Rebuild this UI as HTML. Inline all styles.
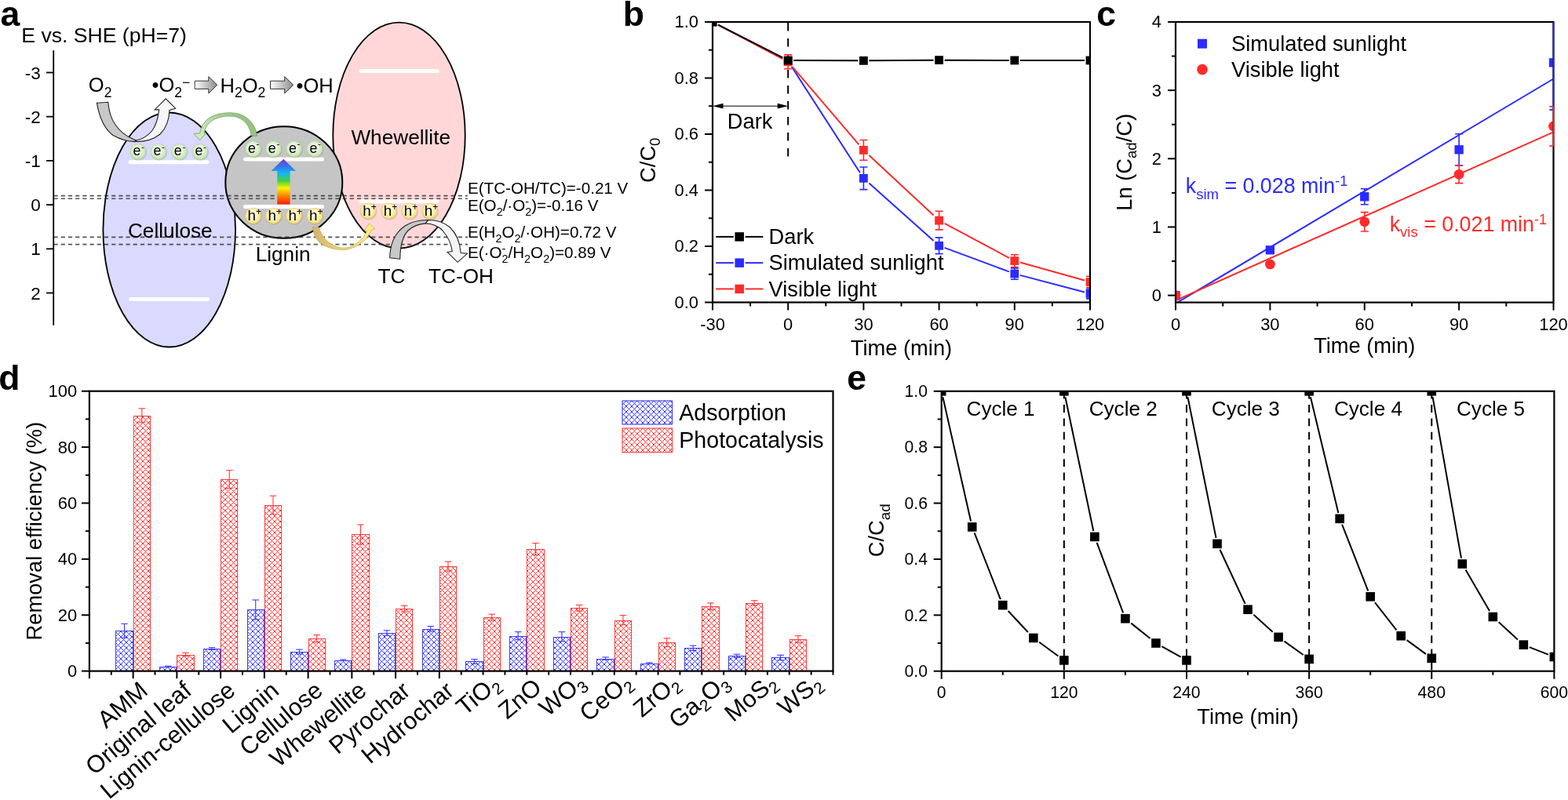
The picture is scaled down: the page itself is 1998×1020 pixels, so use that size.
<!DOCTYPE html>
<html><head><meta charset="utf-8"><title>Figure</title>
<style>
html,body{margin:0;padding:0;background:#fff;overflow:hidden;}
svg{display:block;}
svg text{font-family:"Liberation Sans", Arial, Helvetica, sans-serif;}
</style></head>
<body>
<svg width="1998" height="1020" viewBox="0 0 1998 1020">
<rect width="1998" height="1020" fill="#fff"/>
<defs><radialGradient id="gG" cx="0.5" cy="0.5" r="0.5" fx="0.42" fy="0.3"><stop offset="0" stop-color="#fbfdf8"/><stop offset="0.6" stop-color="#e2f2d6"/><stop offset="0.88" stop-color="#c8e6b4"/><stop offset="1" stop-color="#a9d494"/></radialGradient><radialGradient id="gY" cx="0.5" cy="0.5" r="0.5" fx="0.42" fy="0.3"><stop offset="0" stop-color="#fffef4"/><stop offset="0.6" stop-color="#fcf3b8"/><stop offset="0.88" stop-color="#f2e08a"/><stop offset="1" stop-color="#dcc06a"/></radialGradient><linearGradient id="gR" x1="0" y1="1" x2="0" y2="0"><stop offset="0" stop-color="#ff1a00"/><stop offset="0.2" stop-color="#ff8a00"/><stop offset="0.36" stop-color="#fff200"/><stop offset="0.52" stop-color="#40d040"/><stop offset="0.68" stop-color="#10b8f0"/><stop offset="0.85" stop-color="#3a6ee8"/><stop offset="1" stop-color="#6a3cc8"/></linearGradient><linearGradient id="gA" x1="0" y1="0" x2="1" y2="0"><stop offset="0" stop-color="#ffffff"/><stop offset="1" stop-color="#8c8c8c"/></linearGradient><linearGradient id="gGr" x1="1" y1="0.3" x2="0" y2="0.7"><stop offset="0" stop-color="#8cbc78"/><stop offset="1" stop-color="#d2ecc2"/></linearGradient><linearGradient id="gYe" x1="0" y1="0" x2="1" y2="0"><stop offset="0" stop-color="#d4b26c"/><stop offset="0.5" stop-color="#ecd878"/><stop offset="1" stop-color="#fbef86"/></linearGradient></defs>
<ellipse cx="215.7" cy="293" rx="84.3" ry="149.5" fill="#dad9fe" stroke="#000" stroke-width="1.8"/>
<ellipse cx="508.5" cy="172.7" rx="84.2" ry="144" fill="#ffd7d8" stroke="#000" stroke-width="1.8"/>
<line x1="166" y1="206.7" x2="264" y2="206.7" stroke="#fff" stroke-width="5" stroke-linecap="round"/>
<line x1="166.5" y1="381.6" x2="264.5" y2="381.6" stroke="#fff" stroke-width="5" stroke-linecap="round"/>
<line x1="460" y1="90.4" x2="557" y2="90.4" stroke="#fff" stroke-width="5" stroke-linecap="round"/>
<line x1="460" y1="256.8" x2="557" y2="256.8" stroke="#fff" stroke-width="5" stroke-linecap="round"/>
<ellipse cx="361.8" cy="232.5" rx="74.5" ry="71.3" fill="#c5c5c5" stroke="#000" stroke-width="2"/>
<line x1="312.5" y1="203.1" x2="410.5" y2="203.1" stroke="#fff" stroke-width="5" stroke-linecap="round"/>
<line x1="312.5" y1="263.5" x2="410.5" y2="263.5" stroke="#fff" stroke-width="5" stroke-linecap="round"/>
<line x1="68.5" y1="249.6" x2="596" y2="249.6" stroke="#2a2a2a" stroke-width="1.6" stroke-dasharray="5.2 4" stroke-opacity="0.8"/>
<line x1="68.5" y1="253.2" x2="596" y2="253.2" stroke="#2a2a2a" stroke-width="1.6" stroke-dasharray="5.2 4" stroke-opacity="0.8"/>
<line x1="68.5" y1="302.4" x2="596" y2="302.4" stroke="#2a2a2a" stroke-width="1.6" stroke-dasharray="5.2 4" stroke-opacity="0.8"/>
<line x1="68.5" y1="311.6" x2="596" y2="311.6" stroke="#2a2a2a" stroke-width="1.6" stroke-dasharray="5.2 4" stroke-opacity="0.8"/>
<path d="M353.3,260.6 L353.3,218 L345.5,218 L361.3,202.7 L377,218 L369.6,218 L369.6,260.6 Z" fill="url(#gR)"/>
<circle cx="176.6" cy="194.1" r="10.6" fill="#000" opacity="0.12"/>
<circle cx="176" cy="193.3" r="10.4" fill="url(#gG)"/>
<text x="169.4" y="198.4" font-size="17.8">e<tspan font-size="11.5" dx="0.8" dy="-7.8">-</tspan></text>
<circle cx="202.6" cy="194.1" r="10.6" fill="#000" opacity="0.12"/>
<circle cx="202" cy="193.3" r="10.4" fill="url(#gG)"/>
<text x="195.4" y="198.4" font-size="17.8">e<tspan font-size="11.5" dx="0.8" dy="-7.8">-</tspan></text>
<circle cx="229" cy="194.1" r="10.6" fill="#000" opacity="0.12"/>
<circle cx="228.4" cy="193.3" r="10.4" fill="url(#gG)"/>
<text x="221.8" y="198.4" font-size="17.8">e<tspan font-size="11.5" dx="0.8" dy="-7.8">-</tspan></text>
<circle cx="255.6" cy="194.1" r="10.6" fill="#000" opacity="0.12"/>
<circle cx="255" cy="193.3" r="10.4" fill="url(#gG)"/>
<text x="248.4" y="198.4" font-size="17.8">e<tspan font-size="11.5" dx="0.8" dy="-7.8">-</tspan></text>
<circle cx="323.1" cy="190.8" r="10.6" fill="#000" opacity="0.12"/>
<circle cx="322.5" cy="190" r="10.4" fill="url(#gG)"/>
<text x="315.9" y="195.1" font-size="17.8">e<tspan font-size="11.5" dx="0.8" dy="-7.8">-</tspan></text>
<circle cx="323.1" cy="276.1" r="10.6" fill="#000" opacity="0.12"/>
<circle cx="322.5" cy="275.3" r="10.4" fill="url(#gY)"/>
<text x="315.5" y="280.9" font-size="18.8">h<tspan font-size="12" dy="-6.8">+</tspan></text>
<circle cx="349" cy="190.8" r="10.6" fill="#000" opacity="0.12"/>
<circle cx="348.4" cy="190" r="10.4" fill="url(#gG)"/>
<text x="341.8" y="195.1" font-size="17.8">e<tspan font-size="11.5" dx="0.8" dy="-7.8">-</tspan></text>
<circle cx="349" cy="276.1" r="10.6" fill="#000" opacity="0.12"/>
<circle cx="348.4" cy="275.3" r="10.4" fill="url(#gY)"/>
<text x="341.4" y="280.9" font-size="18.8">h<tspan font-size="12" dy="-6.8">+</tspan></text>
<circle cx="375.1" cy="190.8" r="10.6" fill="#000" opacity="0.12"/>
<circle cx="374.5" cy="190" r="10.4" fill="url(#gG)"/>
<text x="367.9" y="195.1" font-size="17.8">e<tspan font-size="11.5" dx="0.8" dy="-7.8">-</tspan></text>
<circle cx="375.1" cy="276.1" r="10.6" fill="#000" opacity="0.12"/>
<circle cx="374.5" cy="275.3" r="10.4" fill="url(#gY)"/>
<text x="367.5" y="280.9" font-size="18.8">h<tspan font-size="12" dy="-6.8">+</tspan></text>
<circle cx="401.6" cy="190.8" r="10.6" fill="#000" opacity="0.12"/>
<circle cx="401" cy="190" r="10.4" fill="url(#gG)"/>
<text x="394.4" y="195.1" font-size="17.8">e<tspan font-size="11.5" dx="0.8" dy="-7.8">-</tspan></text>
<circle cx="401.6" cy="276.1" r="10.6" fill="#000" opacity="0.12"/>
<circle cx="401" cy="275.3" r="10.4" fill="url(#gY)"/>
<text x="394" y="280.9" font-size="18.8">h<tspan font-size="12" dy="-6.8">+</tspan></text>
<circle cx="469.8" cy="269.9" r="10.6" fill="#000" opacity="0.12"/>
<circle cx="469.2" cy="269.1" r="10.4" fill="url(#gY)"/>
<text x="462.2" y="274.7" font-size="18.8">h<tspan font-size="12" dy="-6.8">+</tspan></text>
<circle cx="496.3" cy="269.9" r="10.6" fill="#000" opacity="0.12"/>
<circle cx="495.7" cy="269.1" r="10.4" fill="url(#gY)"/>
<text x="488.7" y="274.7" font-size="18.8">h<tspan font-size="12" dy="-6.8">+</tspan></text>
<circle cx="522.4" cy="269.9" r="10.6" fill="#000" opacity="0.12"/>
<circle cx="521.8" cy="269.1" r="10.4" fill="url(#gY)"/>
<text x="514.8" y="274.7" font-size="18.8">h<tspan font-size="12" dy="-6.8">+</tspan></text>
<circle cx="548.3" cy="269.9" r="10.6" fill="#000" opacity="0.12"/>
<circle cx="547.7" cy="269.1" r="10.4" fill="url(#gY)"/>
<text x="540.7" y="274.7" font-size="18.8">h<tspan font-size="12" dy="-6.8">+</tspan></text>
<path d="M123.4,131.3 L137.8,130.3 C138.5,141 142,152 147,159 C152.5,167 160,173 168,176.5 C171,177.8 173.5,179 176,179.8 L172,180.6 C163,180.5 152,177 144,172.5 C134,165 127,152 123.4,131.3 Z" fill="#c8c8c8" stroke="#222" stroke-width="1.1"/>
<path d="M171.8,179.7 C180,178 188,173.5 193.5,167 C199,160 201.5,150 202.7,139.9 L197.2,139.9 L211.2,125.8 L223.6,138.2 L216,140.4 C215.5,152 212,163 204,171 C196,177.5 186,180.5 175,180.6 Z" fill="#f6f6f6" stroke="#222" stroke-width="1.1"/>
<path d="M327.5,173.5 C326.5,162 319,150 305,145.4 C291,141.8 273,144.3 263,153.2 C258.3,158 255.8,164 254.8,169.8 L247.2,170.6 L254.8,178.6 L262.8,169.6 L260.3,169.7 C261,164.6 263.3,159.8 267.2,156.2 C275.5,148.6 290,146.4 301,149 C311.5,152 318.5,160.5 320.2,173 Z" fill="url(#gGr)" stroke="#6f9f5c" stroke-width="0.8"/>
<path d="M398.4,289.7 C399,297 402,305 409,310.7 C416,315.5 427,318.6 437.3,318.6 C447,318.6 457,313 465.7,305.5 C469,301.5 471.5,297.5 473,293.4 L477.8,291.8 L470.4,285 L464.1,293.9 L467.4,294.6 C464,302.5 457,310.5 446,314.8 C438,317.5 430,316 424,312.3 C417,308.5 410,302 406.3,289.7 Z" fill="url(#gYe)" stroke="#b89a40" stroke-width="0.6"/>
<path d="M496.7,328.8 C497,312 503,297 516,288 C525,282 535,280.5 546,280.5 L542,284.9 C533,285.5 526,288.5 520,294 C513,301 510,312 509.7,330.2 Z" fill="#c8c8c8" stroke="#222" stroke-width="1.1"/>
<path d="M542,284.9 C550,285 558,288 564,294 C571,302 575,311 576.3,320.6 L570.1,321.3 L583.1,334.3 L595.5,323.3 L587.2,322.5 C586,308 581,297 573,289.5 C565,283 556,280.5 546,280.5 Z" fill="#f4f4f4" stroke="#222" stroke-width="1.1"/>
<path d="M248.2,103.2 L265.8,103.2 L265.8,97.6 L276.8,108.3 L265.8,119 L265.8,113.4 L248.2,113.4 Z" fill="url(#gA)" stroke="#333" stroke-width="1"/>
<path d="M344.5,103.2 L362.7,103.2 L362.7,97.6 L373.7,108.3 L362.7,119 L362.7,113.4 L344.5,113.4 Z" fill="url(#gA)" stroke="#333" stroke-width="1"/>
<line x1="68.2" y1="64.3" x2="68.2" y2="414.7" stroke="#000" stroke-width="1.8"/>
<line x1="59" y1="92.5" x2="68.2" y2="92.5" stroke="#000" stroke-width="1.8"/>
<text x="51.7" y="100.5" font-size="22.5" text-anchor="end">-3</text>
<line x1="59" y1="148.7" x2="68.2" y2="148.7" stroke="#000" stroke-width="1.8"/>
<text x="51.7" y="156.7" font-size="22.5" text-anchor="end">-2</text>
<line x1="59" y1="204.9" x2="68.2" y2="204.9" stroke="#000" stroke-width="1.8"/>
<text x="51.7" y="212.9" font-size="22.5" text-anchor="end">-1</text>
<line x1="59" y1="261.1" x2="68.2" y2="261.1" stroke="#000" stroke-width="1.8"/>
<text x="51.7" y="269.1" font-size="22.5" text-anchor="end">0</text>
<line x1="59" y1="317.3" x2="68.2" y2="317.3" stroke="#000" stroke-width="1.8"/>
<text x="51.7" y="325.3" font-size="22.5" text-anchor="end">1</text>
<line x1="59" y1="373.5" x2="68.2" y2="373.5" stroke="#000" stroke-width="1.8"/>
<text x="51.7" y="381.5" font-size="22.5" text-anchor="end">2</text>
<text x="27.3" y="53.9" font-size="26.6">E vs. SHE (pH=7)</text>
<text x="112.8" y="117.3" font-size="25.5">O<tspan font-size="17.5" dy="6.4">2</tspan></text>
<text x="193.5" y="117.4" font-size="25.5">•O<tspan font-size="17.5" dy="6.4">2</tspan><tspan font-size="17.5" dy="-12.8">−</tspan></text>
<text x="280.5" y="117.6" font-size="25.5">H<tspan font-size="17.5" dy="6.4">2</tspan><tspan font-size="25.5" dy="-6.4">O</tspan><tspan font-size="17.5" dy="6.4">2</tspan></text>
<text x="377.5" y="117.6" font-size="25.5">•OH</text>
<text x="216.8" y="302.8" font-size="26.2" text-anchor="middle">Cellulose</text>
<text x="360.6" y="332.8" font-size="26.2" text-anchor="middle">Lignin</text>
<text x="510.7" y="184.4" font-size="26.2" text-anchor="middle">Whewellite</text>
<text x="481.6" y="361" font-size="26.2">TC</text>
<text x="546" y="361" font-size="26.2">TC-OH</text>
<text x="596" y="246.7" font-size="20.6">E(TC-OH/TC)=-0.21 V</text>
<text x="596" y="269.2" font-size="20.6">E(O<tspan font-size="14.4" dy="6.2">2</tspan><tspan font-size="20.6" dy="-6.2">/·O</tspan><tspan font-size="14.4" dy="-7">-</tspan><tspan font-size="14.4" dx="-4.8" dy="13.2">2</tspan><tspan font-size="20.6" dy="-6.2">)=-0.16 V</tspan></text>
<text x="596" y="302.6" font-size="20.6">E(H<tspan font-size="14.4" dy="6.2">2</tspan><tspan font-size="20.6" dy="-6.2">O</tspan><tspan font-size="14.4" dy="6.2">2</tspan><tspan font-size="20.6" dy="-6.2">/·OH)=0.72 V</tspan></text>
<text x="596" y="328.7" font-size="20.6">E(·O<tspan font-size="14.4" dy="-7">-</tspan><tspan font-size="14.4" dx="-4.8" dy="13.2">2</tspan><tspan font-size="20.6" dy="-6.2">/H</tspan><tspan font-size="14.4" dy="6.2">2</tspan><tspan font-size="20.6" dy="-6.2">O</tspan><tspan font-size="14.4" dy="6.2">2</tspan><tspan font-size="20.6" dy="-6.2">)=0.89 V</tspan></text>
<clipPath id="cb"><rect x="908" y="28" width="481" height="357.5"/></clipPath>
<line x1="898" y1="385.5" x2="908" y2="385.5" stroke="#000" stroke-width="2"/>
<text x="890" y="392.9" font-size="21.9" text-anchor="end">0.0</text>
<line x1="903" y1="349.75" x2="908" y2="349.75" stroke="#000" stroke-width="2"/>
<line x1="898" y1="314" x2="908" y2="314" stroke="#000" stroke-width="2"/>
<text x="890" y="321.4" font-size="21.9" text-anchor="end">0.2</text>
<line x1="903" y1="278.25" x2="908" y2="278.25" stroke="#000" stroke-width="2"/>
<line x1="898" y1="242.5" x2="908" y2="242.5" stroke="#000" stroke-width="2"/>
<text x="890" y="249.9" font-size="21.9" text-anchor="end">0.4</text>
<line x1="903" y1="206.75" x2="908" y2="206.75" stroke="#000" stroke-width="2"/>
<line x1="898" y1="171" x2="908" y2="171" stroke="#000" stroke-width="2"/>
<text x="890" y="178.4" font-size="21.9" text-anchor="end">0.6</text>
<line x1="903" y1="135.25" x2="908" y2="135.25" stroke="#000" stroke-width="2"/>
<line x1="898" y1="99.5" x2="908" y2="99.5" stroke="#000" stroke-width="2"/>
<text x="890" y="106.9" font-size="21.9" text-anchor="end">0.8</text>
<line x1="903" y1="63.75" x2="908" y2="63.75" stroke="#000" stroke-width="2"/>
<line x1="898" y1="28" x2="908" y2="28" stroke="#000" stroke-width="2"/>
<text x="890" y="35.4" font-size="21.9" text-anchor="end">1.0</text>
<line x1="908" y1="385.5" x2="908" y2="395.5" stroke="#000" stroke-width="2"/>
<text x="908" y="420.6" font-size="21.9" text-anchor="middle">-30</text>
<line x1="956.1" y1="385.5" x2="956.1" y2="390.5" stroke="#000" stroke-width="2"/>
<line x1="1004.2" y1="385.5" x2="1004.2" y2="395.5" stroke="#000" stroke-width="2"/>
<text x="1004.2" y="420.6" font-size="21.9" text-anchor="middle">0</text>
<line x1="1052.3" y1="385.5" x2="1052.3" y2="390.5" stroke="#000" stroke-width="2"/>
<line x1="1100.4" y1="385.5" x2="1100.4" y2="395.5" stroke="#000" stroke-width="2"/>
<text x="1100.4" y="420.6" font-size="21.9" text-anchor="middle">30</text>
<line x1="1148.5" y1="385.5" x2="1148.5" y2="390.5" stroke="#000" stroke-width="2"/>
<line x1="1196.6" y1="385.5" x2="1196.6" y2="395.5" stroke="#000" stroke-width="2"/>
<text x="1196.6" y="420.6" font-size="21.9" text-anchor="middle">60</text>
<line x1="1244.7" y1="385.5" x2="1244.7" y2="390.5" stroke="#000" stroke-width="2"/>
<line x1="1292.8" y1="385.5" x2="1292.8" y2="395.5" stroke="#000" stroke-width="2"/>
<text x="1292.8" y="420.6" font-size="21.9" text-anchor="middle">90</text>
<line x1="1340.9" y1="385.5" x2="1340.9" y2="390.5" stroke="#000" stroke-width="2"/>
<line x1="1389" y1="385.5" x2="1389" y2="395.5" stroke="#000" stroke-width="2"/>
<text x="1389" y="420.6" font-size="21.9" text-anchor="middle">120</text>
<text x="1148.5" y="452.6" font-size="27.3" text-anchor="middle">Time (min)</text>
<text x="835.3" y="204.25" font-size="27.3" text-anchor="middle" transform="rotate(-90 835.3 204.25)">C/C<tspan font-size="18.5" dy="5.5">0</tspan></text>
<line x1="1004.2" y1="28" x2="1004.2" y2="199.5" stroke="#000" stroke-width="2" stroke-dasharray="10.4 9.6" stroke-dashoffset="-1"/>
<line x1="914" y1="135.2" x2="998.2" y2="135.2" stroke="#000" stroke-width="1"/>
<path d="M908,135.2 l13.5,-3.4 v6.8 z M1004.2,135.2 l-13.5,-3.4 v6.8 z" fill="#000"/>
<text x="926.8" y="164" font-size="27.3">Dark</text>
<g clip-path="url(#cb)">
<path d="M915,31.64L997.2,74.41M1008.71,85.05L1095.89,220.31M1107.4,233.56L1189.6,307.03M1203.6,315.89L1285.8,346.43M1299.8,350.88L1382,372.57" fill="none" stroke="#2b2bff" stroke-width="2"/>
<path d="M915,31.69L997.2,75.07M1010.18,85.76L1094.42,184.38M1107.4,197.91L1189.6,274.58M1203.6,284.86L1285.8,328.84M1299.8,334.54L1382,357.45" fill="none" stroke="#ff2b2b" stroke-width="2"/>
<path d="M915,31.56L997.2,73.41M1011.2,77L1093.4,77.31M1107.4,77.28L1189.6,76.67M1203.6,76.65L1285.8,76.95M1299.8,76.98L1382,76.98" fill="none" stroke="#000" stroke-width="2"/>
<rect x="902.6" y="22.6" width="10.8" height="10.8" fill="#2b2bff"/>
<line x1="1004.2" y1="73.76" x2="1004.2" y2="82.34" stroke="#2b2bff" stroke-width="1.6"/>
<line x1="999.2" y1="73.76" x2="1009.2" y2="73.76" stroke="#2b2bff" stroke-width="1.6"/>
<line x1="999.2" y1="82.34" x2="1009.2" y2="82.34" stroke="#2b2bff" stroke-width="1.6"/>
<rect x="998.8" y="72.65" width="10.8" height="10.8" fill="#2b2bff"/>
<line x1="1100.4" y1="213.01" x2="1100.4" y2="241.61" stroke="#2b2bff" stroke-width="1.6"/>
<line x1="1095.4" y1="213.01" x2="1105.4" y2="213.01" stroke="#2b2bff" stroke-width="1.6"/>
<line x1="1095.4" y1="241.61" x2="1105.4" y2="241.61" stroke="#2b2bff" stroke-width="1.6"/>
<rect x="1095" y="221.91" width="10.8" height="10.8" fill="#2b2bff"/>
<line x1="1196.6" y1="302.92" x2="1196.6" y2="323.65" stroke="#2b2bff" stroke-width="1.6"/>
<line x1="1191.6" y1="302.92" x2="1201.6" y2="302.92" stroke="#2b2bff" stroke-width="1.6"/>
<line x1="1191.6" y1="323.65" x2="1201.6" y2="323.65" stroke="#2b2bff" stroke-width="1.6"/>
<rect x="1191.2" y="307.88" width="10.8" height="10.8" fill="#2b2bff"/>
<line x1="1292.8" y1="341.88" x2="1292.8" y2="356.19" stroke="#2b2bff" stroke-width="1.6"/>
<line x1="1287.8" y1="341.88" x2="1297.8" y2="341.88" stroke="#2b2bff" stroke-width="1.6"/>
<line x1="1287.8" y1="356.19" x2="1297.8" y2="356.19" stroke="#2b2bff" stroke-width="1.6"/>
<rect x="1287.4" y="343.64" width="10.8" height="10.8" fill="#2b2bff"/>
<line x1="1389" y1="367.98" x2="1389" y2="380.85" stroke="#2b2bff" stroke-width="1.6"/>
<line x1="1384" y1="367.98" x2="1394" y2="367.98" stroke="#2b2bff" stroke-width="1.6"/>
<line x1="1384" y1="380.85" x2="1394" y2="380.85" stroke="#2b2bff" stroke-width="1.6"/>
<rect x="1383.6" y="369.02" width="10.8" height="10.8" fill="#2b2bff"/>
<rect x="902.6" y="22.6" width="10.8" height="10.8" fill="#ff2b2b"/>
<line x1="1004.2" y1="69.83" x2="1004.2" y2="87.7" stroke="#ff2b2b" stroke-width="1.6"/>
<line x1="999.2" y1="69.83" x2="1009.2" y2="69.83" stroke="#ff2b2b" stroke-width="1.6"/>
<line x1="999.2" y1="87.7" x2="1009.2" y2="87.7" stroke="#ff2b2b" stroke-width="1.6"/>
<rect x="998.8" y="73.36" width="10.8" height="10.8" fill="#ff2b2b"/>
<line x1="1100.4" y1="178.51" x2="1100.4" y2="204.25" stroke="#ff2b2b" stroke-width="1.6"/>
<line x1="1095.4" y1="178.51" x2="1105.4" y2="178.51" stroke="#ff2b2b" stroke-width="1.6"/>
<line x1="1095.4" y1="204.25" x2="1105.4" y2="204.25" stroke="#ff2b2b" stroke-width="1.6"/>
<rect x="1095" y="185.98" width="10.8" height="10.8" fill="#ff2b2b"/>
<line x1="1196.6" y1="269.31" x2="1196.6" y2="292.91" stroke="#ff2b2b" stroke-width="1.6"/>
<line x1="1191.6" y1="269.31" x2="1201.6" y2="269.31" stroke="#ff2b2b" stroke-width="1.6"/>
<line x1="1191.6" y1="292.91" x2="1201.6" y2="292.91" stroke="#ff2b2b" stroke-width="1.6"/>
<rect x="1191.2" y="275.71" width="10.8" height="10.8" fill="#ff2b2b"/>
<line x1="1292.8" y1="324.73" x2="1292.8" y2="340.45" stroke="#ff2b2b" stroke-width="1.6"/>
<line x1="1287.8" y1="324.73" x2="1297.8" y2="324.73" stroke="#ff2b2b" stroke-width="1.6"/>
<line x1="1287.8" y1="340.45" x2="1297.8" y2="340.45" stroke="#ff2b2b" stroke-width="1.6"/>
<rect x="1287.4" y="327.19" width="10.8" height="10.8" fill="#ff2b2b"/>
<line x1="1389" y1="352.25" x2="1389" y2="366.55" stroke="#ff2b2b" stroke-width="1.6"/>
<line x1="1384" y1="352.25" x2="1394" y2="352.25" stroke="#ff2b2b" stroke-width="1.6"/>
<line x1="1384" y1="366.55" x2="1394" y2="366.55" stroke="#ff2b2b" stroke-width="1.6"/>
<rect x="1383.6" y="354" width="10.8" height="10.8" fill="#ff2b2b"/>
<rect x="902.6" y="22.6" width="10.8" height="10.8" fill="#000"/>
<rect x="998.8" y="71.58" width="10.8" height="10.8" fill="#000"/>
<rect x="1095" y="71.93" width="10.8" height="10.8" fill="#000"/>
<rect x="1191.2" y="71.22" width="10.8" height="10.8" fill="#000"/>
<rect x="1287.4" y="71.58" width="10.8" height="10.8" fill="#000"/>
<rect x="1383.6" y="71.58" width="10.8" height="10.8" fill="#000"/>
</g>
<rect x="908" y="28" width="481" height="357.5" fill="none" stroke="#000" stroke-width="2.2"/>
<line x1="912.2" y1="301.9" x2="934.8" y2="301.9" stroke="#000" stroke-width="2"/>
<line x1="949.6" y1="301.9" x2="972.3" y2="301.9" stroke="#000" stroke-width="2"/>
<rect x="936.45" y="296.15" width="11.5" height="11.5" fill="#000"/>
<text x="979.5" y="311.2" font-size="27.3">Dark</text>
<line x1="912.2" y1="335.15" x2="934.8" y2="335.15" stroke="#2b2bff" stroke-width="2"/>
<line x1="949.6" y1="335.15" x2="972.3" y2="335.15" stroke="#2b2bff" stroke-width="2"/>
<rect x="936.45" y="329.4" width="11.5" height="11.5" fill="#2b2bff"/>
<text x="979.5" y="344.45" font-size="27.3">Simulated sunlight</text>
<line x1="912.2" y1="368.4" x2="934.8" y2="368.4" stroke="#ff2b2b" stroke-width="2"/>
<line x1="949.6" y1="368.4" x2="972.3" y2="368.4" stroke="#ff2b2b" stroke-width="2"/>
<rect x="936.45" y="362.65" width="11.5" height="11.5" fill="#ff2b2b"/>
<text x="979.5" y="377.7" font-size="27.3">Visible light</text>
<clipPath id="cc"><rect x="1498" y="28" width="481.5" height="357.6"/></clipPath>
<line x1="1488" y1="376.6" x2="1498" y2="376.6" stroke="#000" stroke-width="2"/>
<text x="1480" y="384" font-size="21.9" text-anchor="end">0</text>
<line x1="1493" y1="333.03" x2="1498" y2="333.03" stroke="#000" stroke-width="2"/>
<line x1="1488" y1="289.45" x2="1498" y2="289.45" stroke="#000" stroke-width="2"/>
<text x="1480" y="296.85" font-size="21.9" text-anchor="end">1</text>
<line x1="1493" y1="245.88" x2="1498" y2="245.88" stroke="#000" stroke-width="2"/>
<line x1="1488" y1="202.3" x2="1498" y2="202.3" stroke="#000" stroke-width="2"/>
<text x="1480" y="209.7" font-size="21.9" text-anchor="end">2</text>
<line x1="1493" y1="158.73" x2="1498" y2="158.73" stroke="#000" stroke-width="2"/>
<line x1="1488" y1="115.15" x2="1498" y2="115.15" stroke="#000" stroke-width="2"/>
<text x="1480" y="122.55" font-size="21.9" text-anchor="end">3</text>
<line x1="1493" y1="71.57" x2="1498" y2="71.57" stroke="#000" stroke-width="2"/>
<line x1="1488" y1="28" x2="1498" y2="28" stroke="#000" stroke-width="2"/>
<text x="1480" y="35.4" font-size="21.9" text-anchor="end">4</text>
<line x1="1498" y1="385.6" x2="1498" y2="395.6" stroke="#000" stroke-width="2"/>
<text x="1498" y="420.6" font-size="21.9" text-anchor="middle">0</text>
<line x1="1558.19" y1="385.6" x2="1558.19" y2="390.6" stroke="#000" stroke-width="2"/>
<line x1="1618.38" y1="385.6" x2="1618.38" y2="395.6" stroke="#000" stroke-width="2"/>
<text x="1618.38" y="420.6" font-size="21.9" text-anchor="middle">30</text>
<line x1="1678.56" y1="385.6" x2="1678.56" y2="390.6" stroke="#000" stroke-width="2"/>
<line x1="1738.75" y1="385.6" x2="1738.75" y2="395.6" stroke="#000" stroke-width="2"/>
<text x="1738.75" y="420.6" font-size="21.9" text-anchor="middle">60</text>
<line x1="1798.94" y1="385.6" x2="1798.94" y2="390.6" stroke="#000" stroke-width="2"/>
<line x1="1859.12" y1="385.6" x2="1859.12" y2="395.6" stroke="#000" stroke-width="2"/>
<text x="1859.12" y="420.6" font-size="21.9" text-anchor="middle">90</text>
<line x1="1919.31" y1="385.6" x2="1919.31" y2="390.6" stroke="#000" stroke-width="2"/>
<line x1="1979.5" y1="385.6" x2="1979.5" y2="395.6" stroke="#000" stroke-width="2"/>
<text x="1979.5" y="420.6" font-size="21.9" text-anchor="middle">120</text>
<text x="1738.75" y="449.8" font-size="27.3" text-anchor="middle">Time (min)</text>
<text x="1442.4" y="206.8" font-size="27.3" text-anchor="middle" transform="rotate(-90 1442.4 206.8)">Ln (C<tspan font-size="18.5" dy="5.5">ad</tspan><tspan font-size="27.3" dy="-5.5">/C)</tspan></text>
<g clip-path="url(#cc)">
<line x1="1498" y1="387" x2="1979.5" y2="100.5" stroke="#2b2bff" stroke-width="2"/>
<line x1="1498" y1="383" x2="1979.5" y2="168.4" stroke="#ff2b2b" stroke-width="2"/>
<rect x="1492.35" y="370.95" width="11.3" height="11.3" fill="#2b2bff"/>
<rect x="1612.72" y="313.17" width="11.3" height="11.3" fill="#2b2bff"/>
<line x1="1738.75" y1="240.73" x2="1738.75" y2="260.78" stroke="#2b2bff" stroke-width="1.6"/>
<line x1="1733.75" y1="240.73" x2="1743.75" y2="240.73" stroke="#2b2bff" stroke-width="1.6"/>
<line x1="1733.75" y1="260.78" x2="1743.75" y2="260.78" stroke="#2b2bff" stroke-width="1.6"/>
<rect x="1733.1" y="245.11" width="11.3" height="11.3" fill="#2b2bff"/>
<line x1="1859.12" y1="170.75" x2="1859.12" y2="210.84" stroke="#2b2bff" stroke-width="1.6"/>
<line x1="1854.12" y1="170.75" x2="1864.12" y2="170.75" stroke="#2b2bff" stroke-width="1.6"/>
<line x1="1854.12" y1="210.84" x2="1864.12" y2="210.84" stroke="#2b2bff" stroke-width="1.6"/>
<rect x="1853.47" y="185.15" width="11.3" height="11.3" fill="#2b2bff"/>
<line x1="1979.5" y1="19.72" x2="1979.5" y2="139.99" stroke="#2b2bff" stroke-width="1.6"/>
<line x1="1974.5" y1="19.72" x2="1984.5" y2="19.72" stroke="#2b2bff" stroke-width="1.6"/>
<line x1="1974.5" y1="139.99" x2="1984.5" y2="139.99" stroke="#2b2bff" stroke-width="1.6"/>
<rect x="1973.85" y="74.2" width="11.3" height="11.3" fill="#2b2bff"/>
<circle cx="1498" cy="376.6" r="6.4" fill="#ff2b2b"/>
<circle cx="1618.38" cy="336.95" r="6.4" fill="#ff2b2b"/>
<line x1="1738.75" y1="270.63" x2="1738.75" y2="295.03" stroke="#ff2b2b" stroke-width="1.6"/>
<line x1="1733.75" y1="270.63" x2="1743.75" y2="270.63" stroke="#ff2b2b" stroke-width="1.6"/>
<line x1="1733.75" y1="295.03" x2="1743.75" y2="295.03" stroke="#ff2b2b" stroke-width="1.6"/>
<circle cx="1738.75" cy="282.83" r="6.4" fill="#ff2b2b"/>
<line x1="1859.12" y1="211.02" x2="1859.12" y2="233.67" stroke="#ff2b2b" stroke-width="1.6"/>
<line x1="1854.12" y1="211.02" x2="1864.12" y2="211.02" stroke="#ff2b2b" stroke-width="1.6"/>
<line x1="1854.12" y1="233.67" x2="1864.12" y2="233.67" stroke="#ff2b2b" stroke-width="1.6"/>
<circle cx="1859.12" cy="222.34" r="6.4" fill="#ff2b2b"/>
<line x1="1979.5" y1="135.72" x2="1979.5" y2="186.26" stroke="#ff2b2b" stroke-width="1.6"/>
<line x1="1974.5" y1="135.72" x2="1984.5" y2="135.72" stroke="#ff2b2b" stroke-width="1.6"/>
<line x1="1974.5" y1="186.26" x2="1984.5" y2="186.26" stroke="#ff2b2b" stroke-width="1.6"/>
<circle cx="1979.5" cy="160.99" r="6.4" fill="#ff2b2b"/>
</g>
<rect x="1498" y="28" width="481.5" height="357.6" fill="none" stroke="#000" stroke-width="2.2"/>
<line x1="1979.5" y1="28" x2="1979.5" y2="139.99" stroke="#2b2bff" stroke-width="1.8"/>
<line x1="1974.5" y1="139.99" x2="1979.5" y2="139.99" stroke="#2b2bff" stroke-width="1.6"/>
<line x1="1979.5" y1="135.72" x2="1979.5" y2="186.26" stroke="#ff2b2b" stroke-width="1.8"/>
<line x1="1974.5" y1="135.72" x2="1979.5" y2="135.72" stroke="#ff2b2b" stroke-width="1.6"/>
<line x1="1974.5" y1="186.26" x2="1979.5" y2="186.26" stroke="#ff2b2b" stroke-width="1.6"/>
<rect x="1526" y="49.7" width="12" height="12" fill="#2b2bff"/>
<circle cx="1532" cy="88.6" r="6.8" fill="#ff2b2b"/>
<text x="1569" y="65" font-size="27.3">Simulated sunlight</text>
<text x="1569" y="97.6" font-size="27.3">Visible light</text>
<text x="1510.8" y="246.3" font-size="26.8" fill="#2b2bff">k<tspan font-size="18.5" dy="7.3">sim</tspan><tspan font-size="26.8" dy="-7.3"> = 0.028 min</tspan><tspan font-size="18" dy="-9">-1</tspan></text>
<text x="1770.7" y="294.6" font-size="26.8" fill="#ff2b2b">k<tspan font-size="18.5" dy="7.3">vis</tspan><tspan font-size="26.8" dy="-7.3"> = 0.021 min</tspan><tspan font-size="18" dy="-9">-1</tspan></text>
<defs><pattern id="hb" patternUnits="userSpaceOnUse" width="7" height="7" x="0" y="0"><path d="M0,0 L7,7 M7,0 L0,7" stroke="#3434ff" stroke-width="1" shape-rendering="crispEdges"/></pattern><pattern id="hr" patternUnits="userSpaceOnUse" width="7" height="7" x="0" y="0"><path d="M0,0 L7,7 M7,0 L0,7" stroke="#ff3434" stroke-width="1" shape-rendering="crispEdges"/></pattern></defs>
<line x1="103.9" y1="855.6" x2="113.9" y2="855.6" stroke="#000" stroke-width="2"/>
<text x="98.1" y="863.2" font-size="21.9" text-anchor="end">0</text>
<line x1="108.9" y1="819.91" x2="113.9" y2="819.91" stroke="#000" stroke-width="2"/>
<line x1="103.9" y1="784.22" x2="113.9" y2="784.22" stroke="#000" stroke-width="2"/>
<text x="98.1" y="791.82" font-size="21.9" text-anchor="end">20</text>
<line x1="108.9" y1="748.53" x2="113.9" y2="748.53" stroke="#000" stroke-width="2"/>
<line x1="103.9" y1="712.84" x2="113.9" y2="712.84" stroke="#000" stroke-width="2"/>
<text x="98.1" y="720.44" font-size="21.9" text-anchor="end">40</text>
<line x1="108.9" y1="677.15" x2="113.9" y2="677.15" stroke="#000" stroke-width="2"/>
<line x1="103.9" y1="641.46" x2="113.9" y2="641.46" stroke="#000" stroke-width="2"/>
<text x="98.1" y="649.06" font-size="21.9" text-anchor="end">60</text>
<line x1="108.9" y1="605.77" x2="113.9" y2="605.77" stroke="#000" stroke-width="2"/>
<line x1="103.9" y1="570.08" x2="113.9" y2="570.08" stroke="#000" stroke-width="2"/>
<text x="98.1" y="577.68" font-size="21.9" text-anchor="end">80</text>
<line x1="108.9" y1="534.39" x2="113.9" y2="534.39" stroke="#000" stroke-width="2"/>
<line x1="103.9" y1="498.7" x2="113.9" y2="498.7" stroke="#000" stroke-width="2"/>
<text x="98.1" y="506.3" font-size="21.9" text-anchor="end">100</text>
<line x1="113.9" y1="855.6" x2="113.9" y2="865.1" stroke="#000" stroke-width="2"/>
<line x1="141.77" y1="855.6" x2="141.77" y2="860.6" stroke="#000" stroke-width="2"/>
<line x1="169.64" y1="855.6" x2="169.64" y2="865.1" stroke="#000" stroke-width="2"/>
<line x1="197.51" y1="855.6" x2="197.51" y2="860.6" stroke="#000" stroke-width="2"/>
<line x1="225.38" y1="855.6" x2="225.38" y2="865.1" stroke="#000" stroke-width="2"/>
<line x1="253.25" y1="855.6" x2="253.25" y2="860.6" stroke="#000" stroke-width="2"/>
<line x1="281.12" y1="855.6" x2="281.12" y2="865.1" stroke="#000" stroke-width="2"/>
<line x1="308.99" y1="855.6" x2="308.99" y2="860.6" stroke="#000" stroke-width="2"/>
<line x1="336.86" y1="855.6" x2="336.86" y2="865.1" stroke="#000" stroke-width="2"/>
<line x1="364.74" y1="855.6" x2="364.74" y2="860.6" stroke="#000" stroke-width="2"/>
<line x1="392.61" y1="855.6" x2="392.61" y2="865.1" stroke="#000" stroke-width="2"/>
<line x1="420.48" y1="855.6" x2="420.48" y2="860.6" stroke="#000" stroke-width="2"/>
<line x1="448.35" y1="855.6" x2="448.35" y2="865.1" stroke="#000" stroke-width="2"/>
<line x1="476.22" y1="855.6" x2="476.22" y2="860.6" stroke="#000" stroke-width="2"/>
<line x1="504.09" y1="855.6" x2="504.09" y2="865.1" stroke="#000" stroke-width="2"/>
<line x1="531.96" y1="855.6" x2="531.96" y2="860.6" stroke="#000" stroke-width="2"/>
<line x1="559.83" y1="855.6" x2="559.83" y2="865.1" stroke="#000" stroke-width="2"/>
<line x1="587.7" y1="855.6" x2="587.7" y2="860.6" stroke="#000" stroke-width="2"/>
<line x1="615.57" y1="855.6" x2="615.57" y2="860.6" stroke="#000" stroke-width="2"/>
<line x1="643.44" y1="855.6" x2="643.44" y2="860.6" stroke="#000" stroke-width="2"/>
<line x1="671.31" y1="855.6" x2="671.31" y2="860.6" stroke="#000" stroke-width="2"/>
<line x1="699.18" y1="855.6" x2="699.18" y2="860.6" stroke="#000" stroke-width="2"/>
<line x1="727.05" y1="855.6" x2="727.05" y2="860.6" stroke="#000" stroke-width="2"/>
<line x1="754.92" y1="855.6" x2="754.92" y2="860.6" stroke="#000" stroke-width="2"/>
<line x1="782.79" y1="855.6" x2="782.79" y2="860.6" stroke="#000" stroke-width="2"/>
<line x1="810.66" y1="855.6" x2="810.66" y2="860.6" stroke="#000" stroke-width="2"/>
<line x1="838.54" y1="855.6" x2="838.54" y2="860.6" stroke="#000" stroke-width="2"/>
<line x1="866.41" y1="855.6" x2="866.41" y2="860.6" stroke="#000" stroke-width="2"/>
<line x1="894.28" y1="855.6" x2="894.28" y2="860.6" stroke="#000" stroke-width="2"/>
<line x1="922.15" y1="855.6" x2="922.15" y2="860.6" stroke="#000" stroke-width="2"/>
<line x1="950.02" y1="855.6" x2="950.02" y2="860.6" stroke="#000" stroke-width="2"/>
<line x1="977.89" y1="855.6" x2="977.89" y2="860.6" stroke="#000" stroke-width="2"/>
<line x1="1005.76" y1="855.6" x2="1005.76" y2="860.6" stroke="#000" stroke-width="2"/>
<line x1="1033.63" y1="855.6" x2="1033.63" y2="860.6" stroke="#000" stroke-width="2"/>
<line x1="1061.5" y1="855.6" x2="1061.5" y2="860.6" stroke="#000" stroke-width="2"/>
<text x="53.5" y="677.15" font-size="27.3" text-anchor="middle" transform="rotate(-90 53.5 677.15)">Removal efficiency (%)</text>
<rect x="147.5" y="804.5" width="22" height="51.1" fill="url(#hb)" stroke="#3a3aff" stroke-width="1"/>
<line x1="158.49" y1="795.28" x2="158.49" y2="813.13" stroke="#3a3aff" stroke-width="1.1"/>
<line x1="154.19" y1="795.28" x2="162.79" y2="795.28" stroke="#3a3aff" stroke-width="1.1"/>
<line x1="154.19" y1="813.13" x2="162.79" y2="813.13" stroke="#3a3aff" stroke-width="1.1"/>
<rect x="170.5" y="530.5" width="21" height="325.1" fill="url(#hr)" stroke="#ff3a3a" stroke-width="1"/>
<line x1="180.79" y1="520.83" x2="180.79" y2="538.67" stroke="#ff3a3a" stroke-width="1.1"/>
<line x1="176.49" y1="520.83" x2="185.09" y2="520.83" stroke="#ff3a3a" stroke-width="1.1"/>
<line x1="176.49" y1="538.67" x2="185.09" y2="538.67" stroke="#ff3a3a" stroke-width="1.1"/>
<text x="190.24" y="883.6" font-size="30.8" text-anchor="end" transform="rotate(-40 190.24 883.6)">AMM</text>
<rect x="203.5" y="850.5" width="21" height="5.1" fill="url(#hb)" stroke="#3a3aff" stroke-width="1"/>
<line x1="214.23" y1="849.18" x2="214.23" y2="850.6" stroke="#3a3aff" stroke-width="1.1"/>
<line x1="209.93" y1="849.18" x2="218.53" y2="849.18" stroke="#3a3aff" stroke-width="1.1"/>
<line x1="209.93" y1="850.6" x2="218.53" y2="850.6" stroke="#3a3aff" stroke-width="1.1"/>
<rect x="225.5" y="835.5" width="22" height="20.1" fill="url(#hr)" stroke="#ff3a3a" stroke-width="1"/>
<line x1="236.53" y1="832.4" x2="236.53" y2="836.68" stroke="#ff3a3a" stroke-width="1.1"/>
<line x1="232.23" y1="832.4" x2="240.83" y2="832.4" stroke="#ff3a3a" stroke-width="1.1"/>
<line x1="232.23" y1="836.68" x2="240.83" y2="836.68" stroke="#ff3a3a" stroke-width="1.1"/>
<text x="245.98" y="883.6" font-size="30.8" text-anchor="end" transform="rotate(-40 245.98 883.6)">Original leaf</text>
<rect x="259.5" y="827.5" width="21" height="28.1" fill="url(#hb)" stroke="#3a3aff" stroke-width="1"/>
<line x1="269.97" y1="825.62" x2="269.97" y2="828.48" stroke="#3a3aff" stroke-width="1.1"/>
<line x1="265.67" y1="825.62" x2="274.27" y2="825.62" stroke="#3a3aff" stroke-width="1.1"/>
<line x1="265.67" y1="828.48" x2="274.27" y2="828.48" stroke="#3a3aff" stroke-width="1.1"/>
<rect x="281.5" y="611.5" width="21" height="244.1" fill="url(#hr)" stroke="#ff3a3a" stroke-width="1"/>
<line x1="292.27" y1="599.7" x2="292.27" y2="622.54" stroke="#ff3a3a" stroke-width="1.1"/>
<line x1="287.97" y1="599.7" x2="296.57" y2="599.7" stroke="#ff3a3a" stroke-width="1.1"/>
<line x1="287.97" y1="622.54" x2="296.57" y2="622.54" stroke="#ff3a3a" stroke-width="1.1"/>
<text x="301.72" y="883.6" font-size="30.8" text-anchor="end" transform="rotate(-40 301.72 883.6)">Lignin-cellulose</text>
<rect x="315.5" y="777.5" width="21" height="78.1" fill="url(#hb)" stroke="#3a3aff" stroke-width="1"/>
<line x1="325.71" y1="764.95" x2="325.71" y2="789.93" stroke="#3a3aff" stroke-width="1.1"/>
<line x1="321.41" y1="764.95" x2="330.01" y2="764.95" stroke="#3a3aff" stroke-width="1.1"/>
<line x1="321.41" y1="789.93" x2="330.01" y2="789.93" stroke="#3a3aff" stroke-width="1.1"/>
<rect x="337.5" y="644.5" width="21" height="211.1" fill="url(#hr)" stroke="#ff3a3a" stroke-width="1"/>
<line x1="348.01" y1="632.18" x2="348.01" y2="655.74" stroke="#ff3a3a" stroke-width="1.1"/>
<line x1="343.71" y1="632.18" x2="352.31" y2="632.18" stroke="#ff3a3a" stroke-width="1.1"/>
<line x1="343.71" y1="655.74" x2="352.31" y2="655.74" stroke="#ff3a3a" stroke-width="1.1"/>
<text x="357.46" y="883.6" font-size="30.8" text-anchor="end" transform="rotate(-40 357.46 883.6)">Lignin</text>
<rect x="370.5" y="831.5" width="22" height="24.1" fill="url(#hb)" stroke="#3a3aff" stroke-width="1"/>
<line x1="381.46" y1="828.12" x2="381.46" y2="833.83" stroke="#3a3aff" stroke-width="1.1"/>
<line x1="377.16" y1="828.12" x2="385.76" y2="828.12" stroke="#3a3aff" stroke-width="1.1"/>
<line x1="377.16" y1="833.83" x2="385.76" y2="833.83" stroke="#3a3aff" stroke-width="1.1"/>
<rect x="393.5" y="814.5" width="21" height="41.1" fill="url(#hr)" stroke="#ff3a3a" stroke-width="1"/>
<line x1="403.76" y1="809.56" x2="403.76" y2="818.84" stroke="#ff3a3a" stroke-width="1.1"/>
<line x1="399.46" y1="809.56" x2="408.06" y2="809.56" stroke="#ff3a3a" stroke-width="1.1"/>
<line x1="399.46" y1="818.84" x2="408.06" y2="818.84" stroke="#ff3a3a" stroke-width="1.1"/>
<text x="413.21" y="883.6" font-size="30.8" text-anchor="end" transform="rotate(-40 413.21 883.6)">Cellulose</text>
<rect x="426.5" y="842.5" width="21" height="13.1" fill="url(#hb)" stroke="#3a3aff" stroke-width="1"/>
<line x1="437.2" y1="840.97" x2="437.2" y2="842.39" stroke="#3a3aff" stroke-width="1.1"/>
<line x1="432.9" y1="840.97" x2="441.5" y2="840.97" stroke="#3a3aff" stroke-width="1.1"/>
<line x1="432.9" y1="842.39" x2="441.5" y2="842.39" stroke="#3a3aff" stroke-width="1.1"/>
<rect x="448.5" y="681.5" width="22" height="174.1" fill="url(#hr)" stroke="#ff3a3a" stroke-width="1"/>
<line x1="459.5" y1="668.94" x2="459.5" y2="693.92" stroke="#ff3a3a" stroke-width="1.1"/>
<line x1="455.2" y1="668.94" x2="463.8" y2="668.94" stroke="#ff3a3a" stroke-width="1.1"/>
<line x1="455.2" y1="693.92" x2="463.8" y2="693.92" stroke="#ff3a3a" stroke-width="1.1"/>
<text x="468.95" y="883.6" font-size="30.8" text-anchor="end" transform="rotate(-40 468.95 883.6)">Whewellite</text>
<rect x="482.5" y="807.5" width="21" height="48.1" fill="url(#hb)" stroke="#3a3aff" stroke-width="1"/>
<line x1="492.94" y1="803.85" x2="492.94" y2="810.27" stroke="#3a3aff" stroke-width="1.1"/>
<line x1="488.64" y1="803.85" x2="497.24" y2="803.85" stroke="#3a3aff" stroke-width="1.1"/>
<line x1="488.64" y1="810.27" x2="497.24" y2="810.27" stroke="#3a3aff" stroke-width="1.1"/>
<rect x="504.5" y="776.5" width="21" height="79.1" fill="url(#hr)" stroke="#ff3a3a" stroke-width="1"/>
<line x1="515.24" y1="772.09" x2="515.24" y2="779.94" stroke="#ff3a3a" stroke-width="1.1"/>
<line x1="510.94" y1="772.09" x2="519.54" y2="772.09" stroke="#ff3a3a" stroke-width="1.1"/>
<line x1="510.94" y1="779.94" x2="519.54" y2="779.94" stroke="#ff3a3a" stroke-width="1.1"/>
<text x="524.69" y="883.6" font-size="30.8" text-anchor="end" transform="rotate(-40 524.69 883.6)">Pyrochar</text>
<rect x="538.5" y="802.5" width="21" height="53.1" fill="url(#hb)" stroke="#3a3aff" stroke-width="1"/>
<line x1="548.68" y1="798.5" x2="548.68" y2="804.92" stroke="#3a3aff" stroke-width="1.1"/>
<line x1="544.38" y1="798.5" x2="552.98" y2="798.5" stroke="#3a3aff" stroke-width="1.1"/>
<line x1="544.38" y1="804.92" x2="552.98" y2="804.92" stroke="#3a3aff" stroke-width="1.1"/>
<rect x="560.5" y="722.5" width="21" height="133.1" fill="url(#hr)" stroke="#ff3a3a" stroke-width="1"/>
<line x1="570.98" y1="716.05" x2="570.98" y2="728.19" stroke="#ff3a3a" stroke-width="1.1"/>
<line x1="566.68" y1="716.05" x2="575.28" y2="716.05" stroke="#ff3a3a" stroke-width="1.1"/>
<line x1="566.68" y1="728.19" x2="575.28" y2="728.19" stroke="#ff3a3a" stroke-width="1.1"/>
<text x="580.43" y="883.6" font-size="30.8" text-anchor="end" transform="rotate(-40 580.43 883.6)">Hydrochar</text>
<rect x="593.5" y="843.5" width="22" height="12.1" fill="url(#hb)" stroke="#3a3aff" stroke-width="1"/>
<line x1="604.42" y1="840.61" x2="604.42" y2="846.32" stroke="#3a3aff" stroke-width="1.1"/>
<line x1="600.12" y1="840.61" x2="608.72" y2="840.61" stroke="#3a3aff" stroke-width="1.1"/>
<line x1="600.12" y1="846.32" x2="608.72" y2="846.32" stroke="#3a3aff" stroke-width="1.1"/>
<rect x="616.5" y="787.5" width="21" height="68.1" fill="url(#hr)" stroke="#ff3a3a" stroke-width="1"/>
<line x1="626.72" y1="783.15" x2="626.72" y2="791" stroke="#ff3a3a" stroke-width="1.1"/>
<line x1="622.42" y1="783.15" x2="631.02" y2="783.15" stroke="#ff3a3a" stroke-width="1.1"/>
<line x1="622.42" y1="791" x2="631.02" y2="791" stroke="#ff3a3a" stroke-width="1.1"/>
<text x="638.67" y="874.6" font-size="30.8" text-anchor="end" transform="rotate(-40 638.67 874.6)">TiO<tspan font-size="21" dy="6.5">2</tspan></text>
<rect x="649.5" y="811.5" width="21" height="44.1" fill="url(#hb)" stroke="#3a3aff" stroke-width="1"/>
<line x1="660.16" y1="805.63" x2="660.16" y2="815.63" stroke="#3a3aff" stroke-width="1.1"/>
<line x1="655.86" y1="805.63" x2="664.46" y2="805.63" stroke="#3a3aff" stroke-width="1.1"/>
<line x1="655.86" y1="815.63" x2="664.46" y2="815.63" stroke="#3a3aff" stroke-width="1.1"/>
<rect x="671.5" y="700.5" width="22" height="155.1" fill="url(#hr)" stroke="#ff3a3a" stroke-width="1"/>
<line x1="682.46" y1="692.5" x2="682.46" y2="707.49" stroke="#ff3a3a" stroke-width="1.1"/>
<line x1="678.16" y1="692.5" x2="686.76" y2="692.5" stroke="#ff3a3a" stroke-width="1.1"/>
<line x1="678.16" y1="707.49" x2="686.76" y2="707.49" stroke="#ff3a3a" stroke-width="1.1"/>
<text x="692.11" y="879.6" font-size="30.8" text-anchor="end" transform="rotate(-40 692.11 879.6)">ZnO</text>
<rect x="705.5" y="812.5" width="21" height="43.1" fill="url(#hb)" stroke="#3a3aff" stroke-width="1"/>
<line x1="715.9" y1="805.63" x2="715.9" y2="817.77" stroke="#3a3aff" stroke-width="1.1"/>
<line x1="711.6" y1="805.63" x2="720.2" y2="805.63" stroke="#3a3aff" stroke-width="1.1"/>
<line x1="711.6" y1="817.77" x2="720.2" y2="817.77" stroke="#3a3aff" stroke-width="1.1"/>
<rect x="727.5" y="775.5" width="21" height="80.1" fill="url(#hr)" stroke="#ff3a3a" stroke-width="1"/>
<line x1="738.2" y1="771.37" x2="738.2" y2="779.22" stroke="#ff3a3a" stroke-width="1.1"/>
<line x1="733.9" y1="771.37" x2="742.5" y2="771.37" stroke="#ff3a3a" stroke-width="1.1"/>
<line x1="733.9" y1="779.22" x2="742.5" y2="779.22" stroke="#ff3a3a" stroke-width="1.1"/>
<text x="747.65" y="873" font-size="30.8" text-anchor="end" transform="rotate(-40 747.65 873)">WO<tspan font-size="21" dy="6.5">3</tspan></text>
<rect x="760.5" y="840.5" width="22" height="15.1" fill="url(#hb)" stroke="#3a3aff" stroke-width="1"/>
<line x1="771.64" y1="837.93" x2="771.64" y2="841.15" stroke="#3a3aff" stroke-width="1.1"/>
<line x1="767.34" y1="837.93" x2="775.94" y2="837.93" stroke="#3a3aff" stroke-width="1.1"/>
<line x1="767.34" y1="841.15" x2="775.94" y2="841.15" stroke="#3a3aff" stroke-width="1.1"/>
<rect x="783.5" y="791.5" width="21" height="64.1" fill="url(#hr)" stroke="#ff3a3a" stroke-width="1"/>
<line x1="793.94" y1="784.58" x2="793.94" y2="796.71" stroke="#ff3a3a" stroke-width="1.1"/>
<line x1="789.64" y1="784.58" x2="798.24" y2="784.58" stroke="#ff3a3a" stroke-width="1.1"/>
<line x1="789.64" y1="796.71" x2="798.24" y2="796.71" stroke="#ff3a3a" stroke-width="1.1"/>
<text x="806.89" y="873.1" font-size="30.8" text-anchor="end" transform="rotate(-40 806.89 873.1)">CeO<tspan font-size="21" dy="6.5">2</tspan></text>
<rect x="816.5" y="846.5" width="22" height="9.1" fill="url(#hb)" stroke="#3a3aff" stroke-width="1"/>
<line x1="827.39" y1="844.89" x2="827.39" y2="846.32" stroke="#3a3aff" stroke-width="1.1"/>
<line x1="823.09" y1="844.89" x2="831.69" y2="844.89" stroke="#3a3aff" stroke-width="1.1"/>
<line x1="823.09" y1="846.32" x2="831.69" y2="846.32" stroke="#3a3aff" stroke-width="1.1"/>
<rect x="839.5" y="819.5" width="21" height="36.1" fill="url(#hr)" stroke="#ff3a3a" stroke-width="1"/>
<line x1="849.69" y1="813.84" x2="849.69" y2="824.55" stroke="#ff3a3a" stroke-width="1.1"/>
<line x1="845.39" y1="813.84" x2="853.99" y2="813.84" stroke="#ff3a3a" stroke-width="1.1"/>
<line x1="845.39" y1="824.55" x2="853.99" y2="824.55" stroke="#ff3a3a" stroke-width="1.1"/>
<text x="867.64" y="874.1" font-size="30.8" text-anchor="end" transform="rotate(-40 867.64 874.1)">ZrO<tspan font-size="21" dy="6.5">2</tspan></text>
<rect x="872.5" y="826.5" width="21" height="29.1" fill="url(#hb)" stroke="#3a3aff" stroke-width="1"/>
<line x1="883.13" y1="823.12" x2="883.13" y2="829.55" stroke="#3a3aff" stroke-width="1.1"/>
<line x1="878.83" y1="823.12" x2="887.43" y2="823.12" stroke="#3a3aff" stroke-width="1.1"/>
<line x1="878.83" y1="829.55" x2="887.43" y2="829.55" stroke="#3a3aff" stroke-width="1.1"/>
<rect x="894.5" y="773.5" width="22" height="82.1" fill="url(#hr)" stroke="#ff3a3a" stroke-width="1"/>
<line x1="905.43" y1="768.87" x2="905.43" y2="777.44" stroke="#ff3a3a" stroke-width="1.1"/>
<line x1="901.13" y1="768.87" x2="909.73" y2="768.87" stroke="#ff3a3a" stroke-width="1.1"/>
<line x1="901.13" y1="777.44" x2="909.73" y2="777.44" stroke="#ff3a3a" stroke-width="1.1"/>
<text x="930.88" y="873.1" font-size="30.8" text-anchor="end" transform="rotate(-40 930.88 873.1)">Ga<tspan font-size="21" dy="6.5">2</tspan><tspan dy="-6.5">O</tspan><tspan font-size="21" dy="6.5">3</tspan></text>
<rect x="928.5" y="836.5" width="21" height="19.1" fill="url(#hb)" stroke="#3a3aff" stroke-width="1"/>
<line x1="938.87" y1="834.19" x2="938.87" y2="838.47" stroke="#3a3aff" stroke-width="1.1"/>
<line x1="934.57" y1="834.19" x2="943.17" y2="834.19" stroke="#3a3aff" stroke-width="1.1"/>
<line x1="934.57" y1="838.47" x2="943.17" y2="838.47" stroke="#3a3aff" stroke-width="1.1"/>
<rect x="950.5" y="769.5" width="21" height="86.1" fill="url(#hr)" stroke="#ff3a3a" stroke-width="1"/>
<line x1="961.17" y1="765.66" x2="961.17" y2="772.09" stroke="#ff3a3a" stroke-width="1.1"/>
<line x1="956.87" y1="765.66" x2="965.47" y2="765.66" stroke="#ff3a3a" stroke-width="1.1"/>
<line x1="956.87" y1="772.09" x2="965.47" y2="772.09" stroke="#ff3a3a" stroke-width="1.1"/>
<text x="991.62" y="873.2" font-size="30.8" text-anchor="end" transform="rotate(-40 991.62 873.2)">MoS<tspan font-size="21" dy="6.5">2</tspan></text>
<rect x="983.5" y="838.5" width="22" height="17.1" fill="url(#hb)" stroke="#3a3aff" stroke-width="1"/>
<line x1="994.61" y1="835.26" x2="994.61" y2="841.68" stroke="#3a3aff" stroke-width="1.1"/>
<line x1="990.31" y1="835.26" x2="998.91" y2="835.26" stroke="#3a3aff" stroke-width="1.1"/>
<line x1="990.31" y1="841.68" x2="998.91" y2="841.68" stroke="#3a3aff" stroke-width="1.1"/>
<rect x="1006.5" y="815.5" width="21" height="40.1" fill="url(#hr)" stroke="#ff3a3a" stroke-width="1"/>
<line x1="1016.91" y1="810.63" x2="1016.91" y2="819.2" stroke="#ff3a3a" stroke-width="1.1"/>
<line x1="1012.61" y1="810.63" x2="1021.21" y2="810.63" stroke="#ff3a3a" stroke-width="1.1"/>
<line x1="1012.61" y1="819.2" x2="1021.21" y2="819.2" stroke="#ff3a3a" stroke-width="1.1"/>
<text x="1048.86" y="874.1" font-size="30.8" text-anchor="end" transform="rotate(-40 1048.86 874.1)">WS<tspan font-size="21" dy="6.5">2</tspan></text>
<rect x="113.9" y="498.7" width="947.6" height="356.9" fill="none" stroke="#000" stroke-width="2.2"/>
<rect x="793" y="511" width="63.5" height="30" fill="url(#hb)" stroke="#3a3aff" stroke-width="1.1"/>
<rect x="793" y="546" width="63.5" height="30.8" fill="url(#hr)" stroke="#ff3a3a" stroke-width="1.1"/>
<text x="865.3" y="535.7" font-size="28.6">Adsorption</text>
<text x="865.3" y="570.5" font-size="28.6">Photocatalysis</text>
<clipPath id="ce"><rect x="1199.7" y="498.8" width="780.7" height="356.9"/></clipPath>
<line x1="1189.7" y1="855.7" x2="1199.7" y2="855.7" stroke="#000" stroke-width="2"/>
<text x="1182" y="863" font-size="21.2" text-anchor="end">0.0</text>
<line x1="1194.7" y1="820.01" x2="1199.7" y2="820.01" stroke="#000" stroke-width="2"/>
<line x1="1189.7" y1="784.32" x2="1199.7" y2="784.32" stroke="#000" stroke-width="2"/>
<text x="1182" y="791.62" font-size="21.2" text-anchor="end">0.2</text>
<line x1="1194.7" y1="748.63" x2="1199.7" y2="748.63" stroke="#000" stroke-width="2"/>
<line x1="1189.7" y1="712.94" x2="1199.7" y2="712.94" stroke="#000" stroke-width="2"/>
<text x="1182" y="720.24" font-size="21.2" text-anchor="end">0.4</text>
<line x1="1194.7" y1="677.25" x2="1199.7" y2="677.25" stroke="#000" stroke-width="2"/>
<line x1="1189.7" y1="641.56" x2="1199.7" y2="641.56" stroke="#000" stroke-width="2"/>
<text x="1182" y="648.86" font-size="21.2" text-anchor="end">0.6</text>
<line x1="1194.7" y1="605.87" x2="1199.7" y2="605.87" stroke="#000" stroke-width="2"/>
<line x1="1189.7" y1="570.18" x2="1199.7" y2="570.18" stroke="#000" stroke-width="2"/>
<text x="1182" y="577.48" font-size="21.2" text-anchor="end">0.8</text>
<line x1="1194.7" y1="534.49" x2="1199.7" y2="534.49" stroke="#000" stroke-width="2"/>
<line x1="1189.7" y1="498.8" x2="1199.7" y2="498.8" stroke="#000" stroke-width="2"/>
<text x="1182" y="506.1" font-size="21.2" text-anchor="end">1.0</text>
<line x1="1199.7" y1="855.7" x2="1199.7" y2="865.7" stroke="#000" stroke-width="2"/>
<text x="1199.7" y="890" font-size="21.2" text-anchor="middle">0</text>
<line x1="1277.77" y1="855.7" x2="1277.77" y2="860.7" stroke="#000" stroke-width="2"/>
<line x1="1355.84" y1="855.7" x2="1355.84" y2="865.7" stroke="#000" stroke-width="2"/>
<text x="1355.84" y="890" font-size="21.2" text-anchor="middle">120</text>
<line x1="1433.91" y1="855.7" x2="1433.91" y2="860.7" stroke="#000" stroke-width="2"/>
<line x1="1511.98" y1="855.7" x2="1511.98" y2="865.7" stroke="#000" stroke-width="2"/>
<text x="1511.98" y="890" font-size="21.2" text-anchor="middle">240</text>
<line x1="1590.05" y1="855.7" x2="1590.05" y2="860.7" stroke="#000" stroke-width="2"/>
<line x1="1668.12" y1="855.7" x2="1668.12" y2="865.7" stroke="#000" stroke-width="2"/>
<text x="1668.12" y="890" font-size="21.2" text-anchor="middle">360</text>
<line x1="1746.19" y1="855.7" x2="1746.19" y2="860.7" stroke="#000" stroke-width="2"/>
<line x1="1824.26" y1="855.7" x2="1824.26" y2="865.7" stroke="#000" stroke-width="2"/>
<text x="1824.26" y="890" font-size="21.2" text-anchor="middle">480</text>
<line x1="1902.33" y1="855.7" x2="1902.33" y2="860.7" stroke="#000" stroke-width="2"/>
<line x1="1980.4" y1="855.7" x2="1980.4" y2="865.7" stroke="#000" stroke-width="2"/>
<text x="1980.4" y="890" font-size="21.2" text-anchor="middle">600</text>
<text x="1590.05" y="922.9" font-size="27.3" text-anchor="middle">Time (min)</text>
<text x="1126.3" y="676.25" font-size="27.3" text-anchor="middle" transform="rotate(-90 1126.3 676.25)">C/C<tspan font-size="19" dy="7.6">ad</tspan></text>
<line x1="1355.84" y1="498.8" x2="1355.84" y2="855.7" stroke="#000" stroke-width="2" stroke-dasharray="9.8 7.5"/>
<line x1="1511.98" y1="498.8" x2="1511.98" y2="855.7" stroke="#000" stroke-width="2" stroke-dasharray="9.8 7.5"/>
<line x1="1668.12" y1="498.8" x2="1668.12" y2="855.7" stroke="#000" stroke-width="2" stroke-dasharray="9.8 7.5"/>
<line x1="1824.26" y1="498.8" x2="1824.26" y2="855.7" stroke="#000" stroke-width="2" stroke-dasharray="9.8 7.5"/>
<g clip-path="url(#ce)">
<path d="M1201.37,506.2L1237.07,664.5M1241.63,679.3L1274.87,764.21M1284.68,779.01L1309.89,806.01M1324.21,818.81L1348.44,836.49" fill="none" stroke="#000" stroke-width="2"/>
<rect x="1193.9" y="493" width="11.6" height="11.6" fill="#000"/>
<rect x="1232.94" y="666.1" width="11.6" height="11.6" fill="#000"/>
<rect x="1271.97" y="765.81" width="11.6" height="11.6" fill="#000"/>
<rect x="1311.01" y="807.61" width="11.6" height="11.6" fill="#000"/>
<rect x="1350.04" y="836.09" width="11.6" height="11.6" fill="#000"/>
<path d="M1357.4,506.2L1393.32,676.99M1397.64,691.79L1431.14,781.31M1441.31,794.64L1465.55,814.08M1480.35,824.16L1504.58,837.74" fill="none" stroke="#000" stroke-width="2"/>
<rect x="1350.04" y="493" width="11.6" height="11.6" fill="#000"/>
<rect x="1389.08" y="678.59" width="11.6" height="11.6" fill="#000"/>
<rect x="1428.11" y="782.91" width="11.6" height="11.6" fill="#000"/>
<rect x="1467.15" y="814.21" width="11.6" height="11.6" fill="#000"/>
<rect x="1506.18" y="836.09" width="11.6" height="11.6" fill="#000"/>
<path d="M1513.47,506.2L1549.53,685.91M1554.46,700.71L1586.61,769.78M1597.45,783.85L1621.68,805.67M1636.49,817.65L1660.72,835.04" fill="none" stroke="#000" stroke-width="2"/>
<rect x="1506.18" y="493" width="11.6" height="11.6" fill="#000"/>
<rect x="1545.22" y="687.51" width="11.6" height="11.6" fill="#000"/>
<rect x="1584.25" y="771.38" width="11.6" height="11.6" fill="#000"/>
<rect x="1623.29" y="806.54" width="11.6" height="11.6" fill="#000"/>
<rect x="1662.32" y="834.55" width="11.6" height="11.6" fill="#000"/>
<path d="M1669.9,506.2L1705.38,653.93M1710.06,668.73L1743.28,753.36M1751.97,768.16L1779.44,803.33M1792.62,816.14L1816.86,833.87" fill="none" stroke="#000" stroke-width="2"/>
<rect x="1662.32" y="493" width="11.6" height="11.6" fill="#000"/>
<rect x="1701.36" y="655.53" width="11.6" height="11.6" fill="#000"/>
<rect x="1740.39" y="754.96" width="11.6" height="11.6" fill="#000"/>
<rect x="1779.42" y="804.93" width="11.6" height="11.6" fill="#000"/>
<rect x="1818.46" y="833.48" width="11.6" height="11.6" fill="#000"/>
<path d="M1825.57,506.2L1861.98,711.61M1867.58,726.41L1898.05,779.06M1909.73,793.23L1933.96,815.39M1948.77,825.06L1973,834.59" fill="none" stroke="#000" stroke-width="2"/>
<rect x="1818.46" y="493" width="11.6" height="11.6" fill="#000"/>
<rect x="1857.5" y="713.21" width="11.6" height="11.6" fill="#000"/>
<rect x="1896.53" y="780.66" width="11.6" height="11.6" fill="#000"/>
<rect x="1935.57" y="816.35" width="11.6" height="11.6" fill="#000"/>
<rect x="1974.6" y="831.7" width="11.6" height="11.6" fill="#000"/>
</g>
<rect x="1199.7" y="498.8" width="780.7" height="356.9" fill="none" stroke="#000" stroke-width="2.2"/>
<text x="1231.6" y="529.9" font-size="26.1">Cycle 1</text>
<text x="1387.7" y="529.9" font-size="26.1">Cycle 2</text>
<text x="1543.8" y="529.9" font-size="26.1">Cycle 3</text>
<text x="1699.9" y="529.9" font-size="26.1">Cycle 4</text>
<text x="1856" y="529.9" font-size="26.1">Cycle 5</text>
<text x="0.4" y="33" font-size="44.5" font-weight="bold">a</text>
<text x="793.8" y="32.6" font-size="44.5" font-weight="bold">b</text>
<text x="1397.2" y="33.2" font-size="44.5" font-weight="bold">c</text>
<text x="-1.7" y="496.8" font-size="44.5" font-weight="bold">d</text>
<text x="1079.3" y="497.4" font-size="44.5" font-weight="bold">e</text>
</svg>
</body></html>
